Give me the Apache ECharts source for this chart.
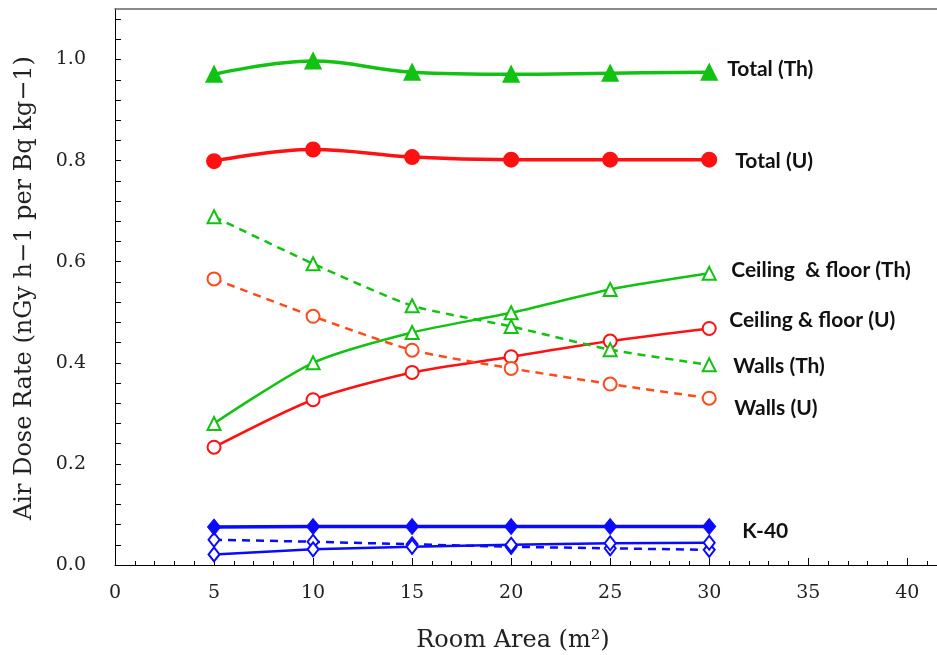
<!DOCTYPE html>
<html>
<head>
<meta charset="utf-8">
<script src="https://cdn.jsdelivr.net/npm/echarts@6/dist/echarts.min.js"></script>
<style>
html,body{margin:0;padding:0;background:#fff;}
#chart{width:937px;height:655px;}
</style>
</head>
<body>
<div id="chart"></div>
<script>
const roomArea = [5, 10, 15, 20, 25, 30];
const totalTh = [0.971, 0.997, 0.975, 0.971, 0.973, 0.975];
const totalU = [0.799, 0.822, 0.807, 0.802, 0.802, 0.802];
const ceilingTh = [0.280, 0.400, 0.460, 0.499, 0.545, 0.577];
const ceilingU = [0.233, 0.327, 0.381, 0.412, 0.443, 0.468];
const wallsTh = [0.689, 0.596, 0.513, 0.472, 0.426, 0.396];
const wallsU = [0.566, 0.492, 0.425, 0.389, 0.358, 0.330];
const k40Total = [0.075, 0.076, 0.076, 0.076, 0.076, 0.076];
const k40Ceiling = [0.021, 0.031, 0.036, 0.040, 0.043, 0.044];
const k40Walls = [0.050, 0.046, 0.041, 0.036, 0.033, 0.030];
const xMajorTicks = [0, 5, 10, 15, 20, 25, 30, 35, 40];
const xMinorTicks = [0,1,2,3,4,5,6,7,8,9,10,11,12,13,14,15,16,17,18,19,20,21,22,23,24,25,26,27,28,29,30,31,32,33,34,35,36,37,38,39,40,41];
const yMajorTicks = [0, 0.2, 0.4, 0.6, 0.8, 1.0];
const yMinorTicks = [0,0.04,0.08,0.12,0.16,0.2,0.24,0.28,0.32,0.36,0.4,0.44,0.48,0.52,0.56,0.6,0.64,0.68,0.72,0.76,0.8,0.84,0.88,0.92,0.96,1.0,1.04,1.08];
const labels = {
  totalTh: 'Total (Th)', totalU: 'Total (U)',
  ceilingTh: 'Ceiling  & floor (Th)', ceilingU: 'Ceiling & floor (U)',
  wallsTh: 'Walls (Th)', wallsU: 'Walls (U)', k40: 'K-40'
};
const yTitle = 'Air Dose Rate (nGy h\u22121 per Bq kg\u22121)';
const xTitle = 'Room Area (m\u00b2)';

const pairs = v => roomArea.map((x, i) => [x, v[i]]);
const GREEN = '#12c212', RED = '#ff1111', ORANGE = '#ff4a1c', BLUE = '#0a0aff';
const labelFont = { fontFamily: 'Lato', fontWeight: 'bold', fontSize: 21, color: '#111' };
const serif = 'DejaVu Serif';

function endLabel(text, dx, dy) {
  return Object.assign({ show: true, formatter: text, offset: [dx, dy], distance: 0 }, labelFont);
}
function mk(name, data, color, opts) {
  return Object.assign({
    name, type: 'line', data: pairs(data), xAxisIndex: 0, yAxisIndex: 0,
    itemStyle: { color, borderColor: color, borderWidth: 2 },
    lineStyle: { color, width: 2.5 },
    z: 3
  }, opts);
}

const chart = echarts.init(document.getElementById('chart'), null, { renderer: 'canvas' });
chart.setOption({
  animation: false,
  grid: { left: 115, right: 0, top: 9, bottom: 90, containLabel: false },
  xAxis: [
    { type: 'value', min: 0, max: 41.5, interval: 1, position: 'bottom',
      axisLine: { show: true, onZero: false, lineStyle: { color: '#000', width: 1 } },
      axisTick: { show: true, inside: true, length: 4, customValues: xMinorTicks, lineStyle: { color: '#000' } },
      axisLabel: { show: false }, splitLine: { show: false } },
    { type: 'value', min: 0, max: 41.5, interval: 5, position: 'bottom', gridIndex: 0,
      axisLine: { show: false },
      axisTick: { show: true, inside: true, length: 7, customValues: xMajorTicks, lineStyle: { color: '#000' } },
      axisLabel: { show: true, customValues: xMajorTicks, margin: 19, fontFamily: serif, fontSize: 19, color: '#222' },
      splitLine: { show: false } },
    { type: 'value', min: 0, max: 41.5, position: 'top',
      axisLine: { show: true, lineStyle: { color: '#666', width: 1.5 } },
      axisTick: { show: false }, axisLabel: { show: false }, splitLine: { show: false } }
  ],
  yAxis: [
    { type: 'value', min: 0, max: 1.1, interval: 0.2, position: 'left',
      axisLine: { show: true, onZero: false, lineStyle: { color: '#000', width: 1 } },
      axisTick: { show: true, inside: true, length: 6, customValues: yMinorTicks, lineStyle: { color: '#000' } },
      axisLabel: { show: true, customValues: yMajorTicks, margin: 29, fontFamily: serif, fontSize: 19, color: '#222',
        formatter: v => v.toFixed(1) },
      splitLine: { show: false } }
  ],
  graphic: [
    { type: 'text', rotation: Math.PI / 2, x: 25, y: 288,
      style: { text: yTitle, font: '24px "DejaVu Serif"', fill: '#222', align: 'center', verticalAlign: 'middle' } },
    { type: 'text', x: 513, y: 641,
      style: { text: xTitle, font: '24px "DejaVu Serif"', fill: '#222', align: 'center', verticalAlign: 'middle' } }
  ],
  series: [
    mk('Total (Th)', totalTh, GREEN, { symbol: 'triangle', symbolSize: 15, smooth: 0.4,
      lineStyle: { color: GREEN, width: 3.5 }, endLabel: endLabel(labels.totalTh, 18, -3) }),
    mk('Total (U)', totalU, RED, { symbol: 'circle', symbolSize: 14, smooth: 0.4,
      lineStyle: { color: RED, width: 3.5 }, endLabel: endLabel(labels.totalU, 26, 2) }),
    mk('Ceiling & floor (Th)', ceilingTh, GREEN, { symbol: 'triangle', symbolSize: 13, smooth: 0.25,
      itemStyle: { color: '#fff', borderColor: GREEN, borderWidth: 2 },
      lineStyle: { color: GREEN, width: 2.5 }, endLabel: endLabel(labels.ceilingTh, 22, -3) }),
    mk('Ceiling & floor (U)', ceilingU, RED, { symbol: 'circle', symbolSize: 13, smooth: 0.25,
      itemStyle: { color: '#fff', borderColor: RED, borderWidth: 2 },
      lineStyle: { color: RED, width: 2.5 }, endLabel: endLabel(labels.ceilingU, 20, -8) }),
    mk('Walls (Th)', wallsTh, GREEN, { symbol: 'triangle', symbolSize: 13, smooth: 0.2,
      itemStyle: { color: '#fff', borderColor: GREEN, borderWidth: 2 },
      lineStyle: { color: GREEN, width: 2.5, type: [8, 6] }, endLabel: endLabel(labels.wallsTh, 24, 1) }),
    mk('Walls (U)', wallsU, ORANGE, { symbol: 'circle', symbolSize: 13, smooth: 0.2,
      itemStyle: { color: '#fff', borderColor: ORANGE, borderWidth: 2 },
      lineStyle: { color: ORANGE, width: 2.5, type: [8, 6] }, endLabel: endLabel(labels.wallsU, 25, 10) }),
    mk('K-40 Walls', k40Walls, BLUE, { symbol: 'diamond', symbolSize: [11, 14],
      itemStyle: { color: '#fff', borderColor: BLUE, borderWidth: 2 },
      lineStyle: { color: BLUE, width: 2.5, type: [8, 6] } }),
    mk('K-40 Ceiling', k40Ceiling, BLUE, { symbol: 'diamond', symbolSize: [11, 14],
      itemStyle: { color: '#fff', borderColor: BLUE, borderWidth: 2 },
      lineStyle: { color: BLUE, width: 2.5 } }),
    mk('K-40', k40Total, BLUE, { symbol: 'diamond', symbolSize: [13, 16],
      itemStyle: { color: BLUE, borderColor: BLUE, borderWidth: 1 },
      lineStyle: { color: BLUE, width: 3.5 }, endLabel: endLabel(labels.k40, 33, 5) })
  ]
});
</script>
</body>
</html>
